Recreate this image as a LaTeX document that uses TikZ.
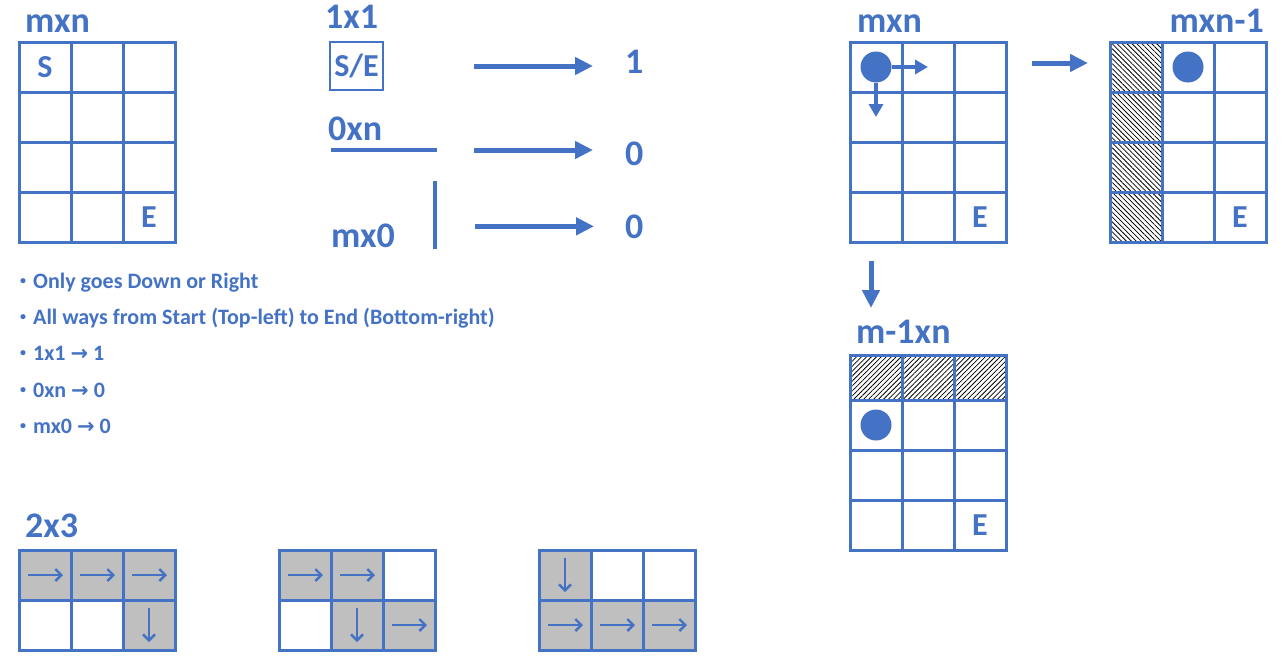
\documentclass[tikz,border=0pt]{standalone}
\usepackage{fontspec}
\setmainfont{Carlito}
\newfontfamily\flechas{DejaVu Sans}
\usetikzlibrary{positioning, arrows.meta, patterns.meta}
\definecolor{azul}{RGB}{68, 114, 196}
\definecolor{gris}{RGB}{191, 191, 191}

\begin{document}
\begin{tikzpicture}[
		x=1pt, y=-1pt,                              % 1 unidad = 1 pixel
		celda/.style = {
			draw=azul,
			line width=3pt,
			minimum width=52pt,
			minimum height=50pt,
			inner sep=0pt,
			outer sep=0pt
		},
		rayadav/.style = {celda, pattern={Lines[angle=-45, distance=3.5pt, line width=0.8pt]}},
		rayadah/.style = {celda, pattern={Lines[angle=45, distance=3.5pt, line width=0.8pt]}},
		titulo/.style = {font=\fontsize{36}{36}\selectfont\bfseries, text=azul, inner sep=0pt},
		letra/.style = {font=\fontsize{32}{32}\selectfont\bfseries, text=azul, inner sep=0pt},
		lista/.style = {font=\fontsize{22}{22}\selectfont\bfseries, text=azul, inner sep=0pt, anchor=base west},
		punto/.style = {circle, fill=azul, minimum size=31pt, inner sep=0pt},
		linea/.style = {draw=azul, line width=4pt},
		flecha/.style = {draw=azul, line width=5pt, -{Triangle[length=18pt, width=17pt]}},
		flechita/.style = {draw=azul, line width=4pt, -{Triangle[length=13pt, width=14pt]}},
		flechafina/.style = {draw=azul, line width=2.2pt, -{Straight Barb[length=6pt, width=12pt, line width=2.4pt]}}
		]
		
		\useasboundingbox (0,0) rectangle (1282,664);
		
		% Rejilla A - mxn (arriba a la izquierda)
		\foreach \f in {1,...,4}
			\foreach \c in {1,...,3}
				\node[celda] (a\f\c) at ({19+52*\c-26}, {42+50*\f-25}) {};
		\node[titulo, anchor=base west] (tA) at ([xshift=6pt, yshift=10pt]a11.north west) {mxn};
		\node[letra] (sA) at (a11) {S};
		\node[letra] (eA) at (a43) {E};
		
		% Casos base - centro
		\node[celda, letra, minimum width=53pt, minimum height=48pt, line width=2pt] (caso1) at (356.5, 66) {S/E};
		\node[titulo, anchor=base west] (t1) at ([xshift=-5pt, yshift=14pt]caso1.north west) {1x1};
		\coordinate (f0a) at (331,150);
		\coordinate (f0b) at (437,150);
		\draw[linea] (f0a) -- (f0b);
		\node[titulo, anchor=base west] (t2) at ([xshift=-3pt, yshift=10pt]f0a) {0xn};
		\coordinate (c0a) at (435,181);
		\coordinate (c0b) at (435,249);
		\draw[linea] (c0a) -- (c0b);
		\node[titulo, anchor=base west] (t3) at (331,247) {mx0};
		
		\node[titulo, anchor=base west] (uno) at (625,73) {1};
		\node[titulo, anchor=base west] (cero1) at (625,165) {0};
		\node[titulo, anchor=base west] (cero2) at (625,238) {0};
		
		\draw[flecha, shorten <=91pt, shorten >=32pt] (caso1.east) -- (caso1.east -| uno.west);
		\draw[flecha, shorten <=37pt, shorten >=32pt] (f0b) -- (f0b -| cero1.west);
		\draw[flecha, shorten <=40pt, shorten >=31pt] (c0a |- cero2.west) -- (cero2.west);
		
		% Lista de reglas
		\node[lista] (l1) at (20,288) {\raisebox{4pt}{\fontsize{12}{12}\selectfont•}\hspace{7pt}Only goes Down or Right};
		\node[lista] (l2) at ([yshift=-36pt]l1.base west) {\raisebox{4pt}{\fontsize{12}{12}\selectfont•}\hspace{7pt}All ways from Start (Top-left) to End (Bottom-right)};
		\node[lista] (l3) at ([yshift=-36pt]l2.base west) {\raisebox{4pt}{\fontsize{12}{12}\selectfont•}\hspace{7pt}1x1 {\flechas\bfseries\fontsize{21}{21}\selectfont →} 1};
		\node[lista] (l4) at ([yshift=-37pt]l3.base west) {\raisebox{4pt}{\fontsize{12}{12}\selectfont•}\hspace{7pt}0xn {\flechas\bfseries\fontsize{21}{21}\selectfont →} 0};
		\node[lista] (l5) at ([yshift=-36pt]l4.base west) {\raisebox{4pt}{\fontsize{12}{12}\selectfont•}\hspace{7pt}mx0 {\flechas\bfseries\fontsize{21}{21}\selectfont →} 0};
		
		% Rejillas 2x3 - abajo
		\foreach \f/\c/\e in {1/1/gris, 1/2/gris, 1/3/gris, 2/1/white, 2/2/white, 2/3/gris}
			\node[celda, fill=\e] (e\f\c) at ({19+52*\c-26}, {550+50*\f-25}) {};
		\foreach \f/\c/\e in {1/1/gris, 1/2/gris, 1/3/white, 2/1/white, 2/2/gris, 2/3/gris}
			\node[celda, fill=\e] (g\f\c) at ({279+52*\c-26}, {550+50*\f-25}) {};
		\foreach \f/\c/\e in {1/1/gris, 1/2/white, 1/3/white, 2/1/gris, 2/2/gris, 2/3/gris}
			\node[celda, fill=\e] (h\f\c) at ({539+52*\c-26}, {550+50*\f-25}) {};
		\node[titulo, anchor=base west] (tE) at ([xshift=6pt, yshift=13pt]e11.north west) {2x3};
		
		\foreach \n in {e11, e12, e13, g11, g12, g23, h21, h22, h23}
			\draw[flechafina] ([xshift=9pt]\n.west) -- ([xshift=-8pt]\n.east);
		\foreach \n in {e23, g22, h11}
			\draw[flechafina] ([yshift=-8pt]\n.north) -- ([yshift=8pt]\n.south);
		
		% Rejilla B - mxn (arriba a la derecha)
		\foreach \f in {1,...,4}
			\foreach \c in {1,...,3}
				\node[celda] (b\f\c) at ({850+52*\c-26}, {42+50*\f-25}) {};
		\node[titulo, anchor=base west] (tB) at ([xshift=7pt, yshift=10pt]b11.north west) {mxn};
		\node[letra] (eB) at (b43) {E};
		\node[punto] (p1) at (b11) {};
		\draw[flechita] (p1.east) -- (p1.east -| b12.center);
		\draw[flechita] (p1.south) -- (p1.south |- b21.center);
		
		% Rejilla C - mxn-1
		\foreach \f in {1,...,4}
			\node[rayadav] (c\f1) at ({1110+26}, {42+50*\f-25}) {};
		\foreach \f in {1,...,4}
			\foreach \c in {2,3}
				\node[celda] (c\f\c) at ({1110+52*\c-26}, {42+50*\f-25}) {};
		\node[titulo, anchor=base east] (tC) at ([xshift=-2pt, yshift=10pt]c13.north east) {mxn-1};
		\node[letra] (eC) at (c43) {E};
		\node[punto] (p2) at (c12) {};
		
		% Rejilla D - m-1xn
		\foreach \c in {1,2,3}
			\node[rayadah, minimum height=45pt] (d1\c) at ({850+52*\c-26}, 377.5) {};
		\foreach \f in {2,3,4}
			\foreach \c in {1,2,3}
				\node[celda] (d\f\c) at ({850+52*\c-26}, {400+50*(\f-2)+25}) {};
		\node[titulo, anchor=base west] (tD) at ([xshift=6pt, yshift=12pt]d11.north west) {m-1xn};
		\node[letra] (eD) at (d43) {E};
		\node[punto] (p3) at (d21) {};
		
		% Flechas entre rejillas
		\draw[flecha, shorten <=26pt, shorten >=22pt] ([yshift=-21pt]b13.north east) -- ([yshift=-21pt]c11.north west);
		\draw[flecha, shorten <=19pt, shorten >=47pt] ([xshift=21pt]b41.south west) -- ([xshift=21pt]d11.north west);
		
	\end{tikzpicture}
\end{document}
